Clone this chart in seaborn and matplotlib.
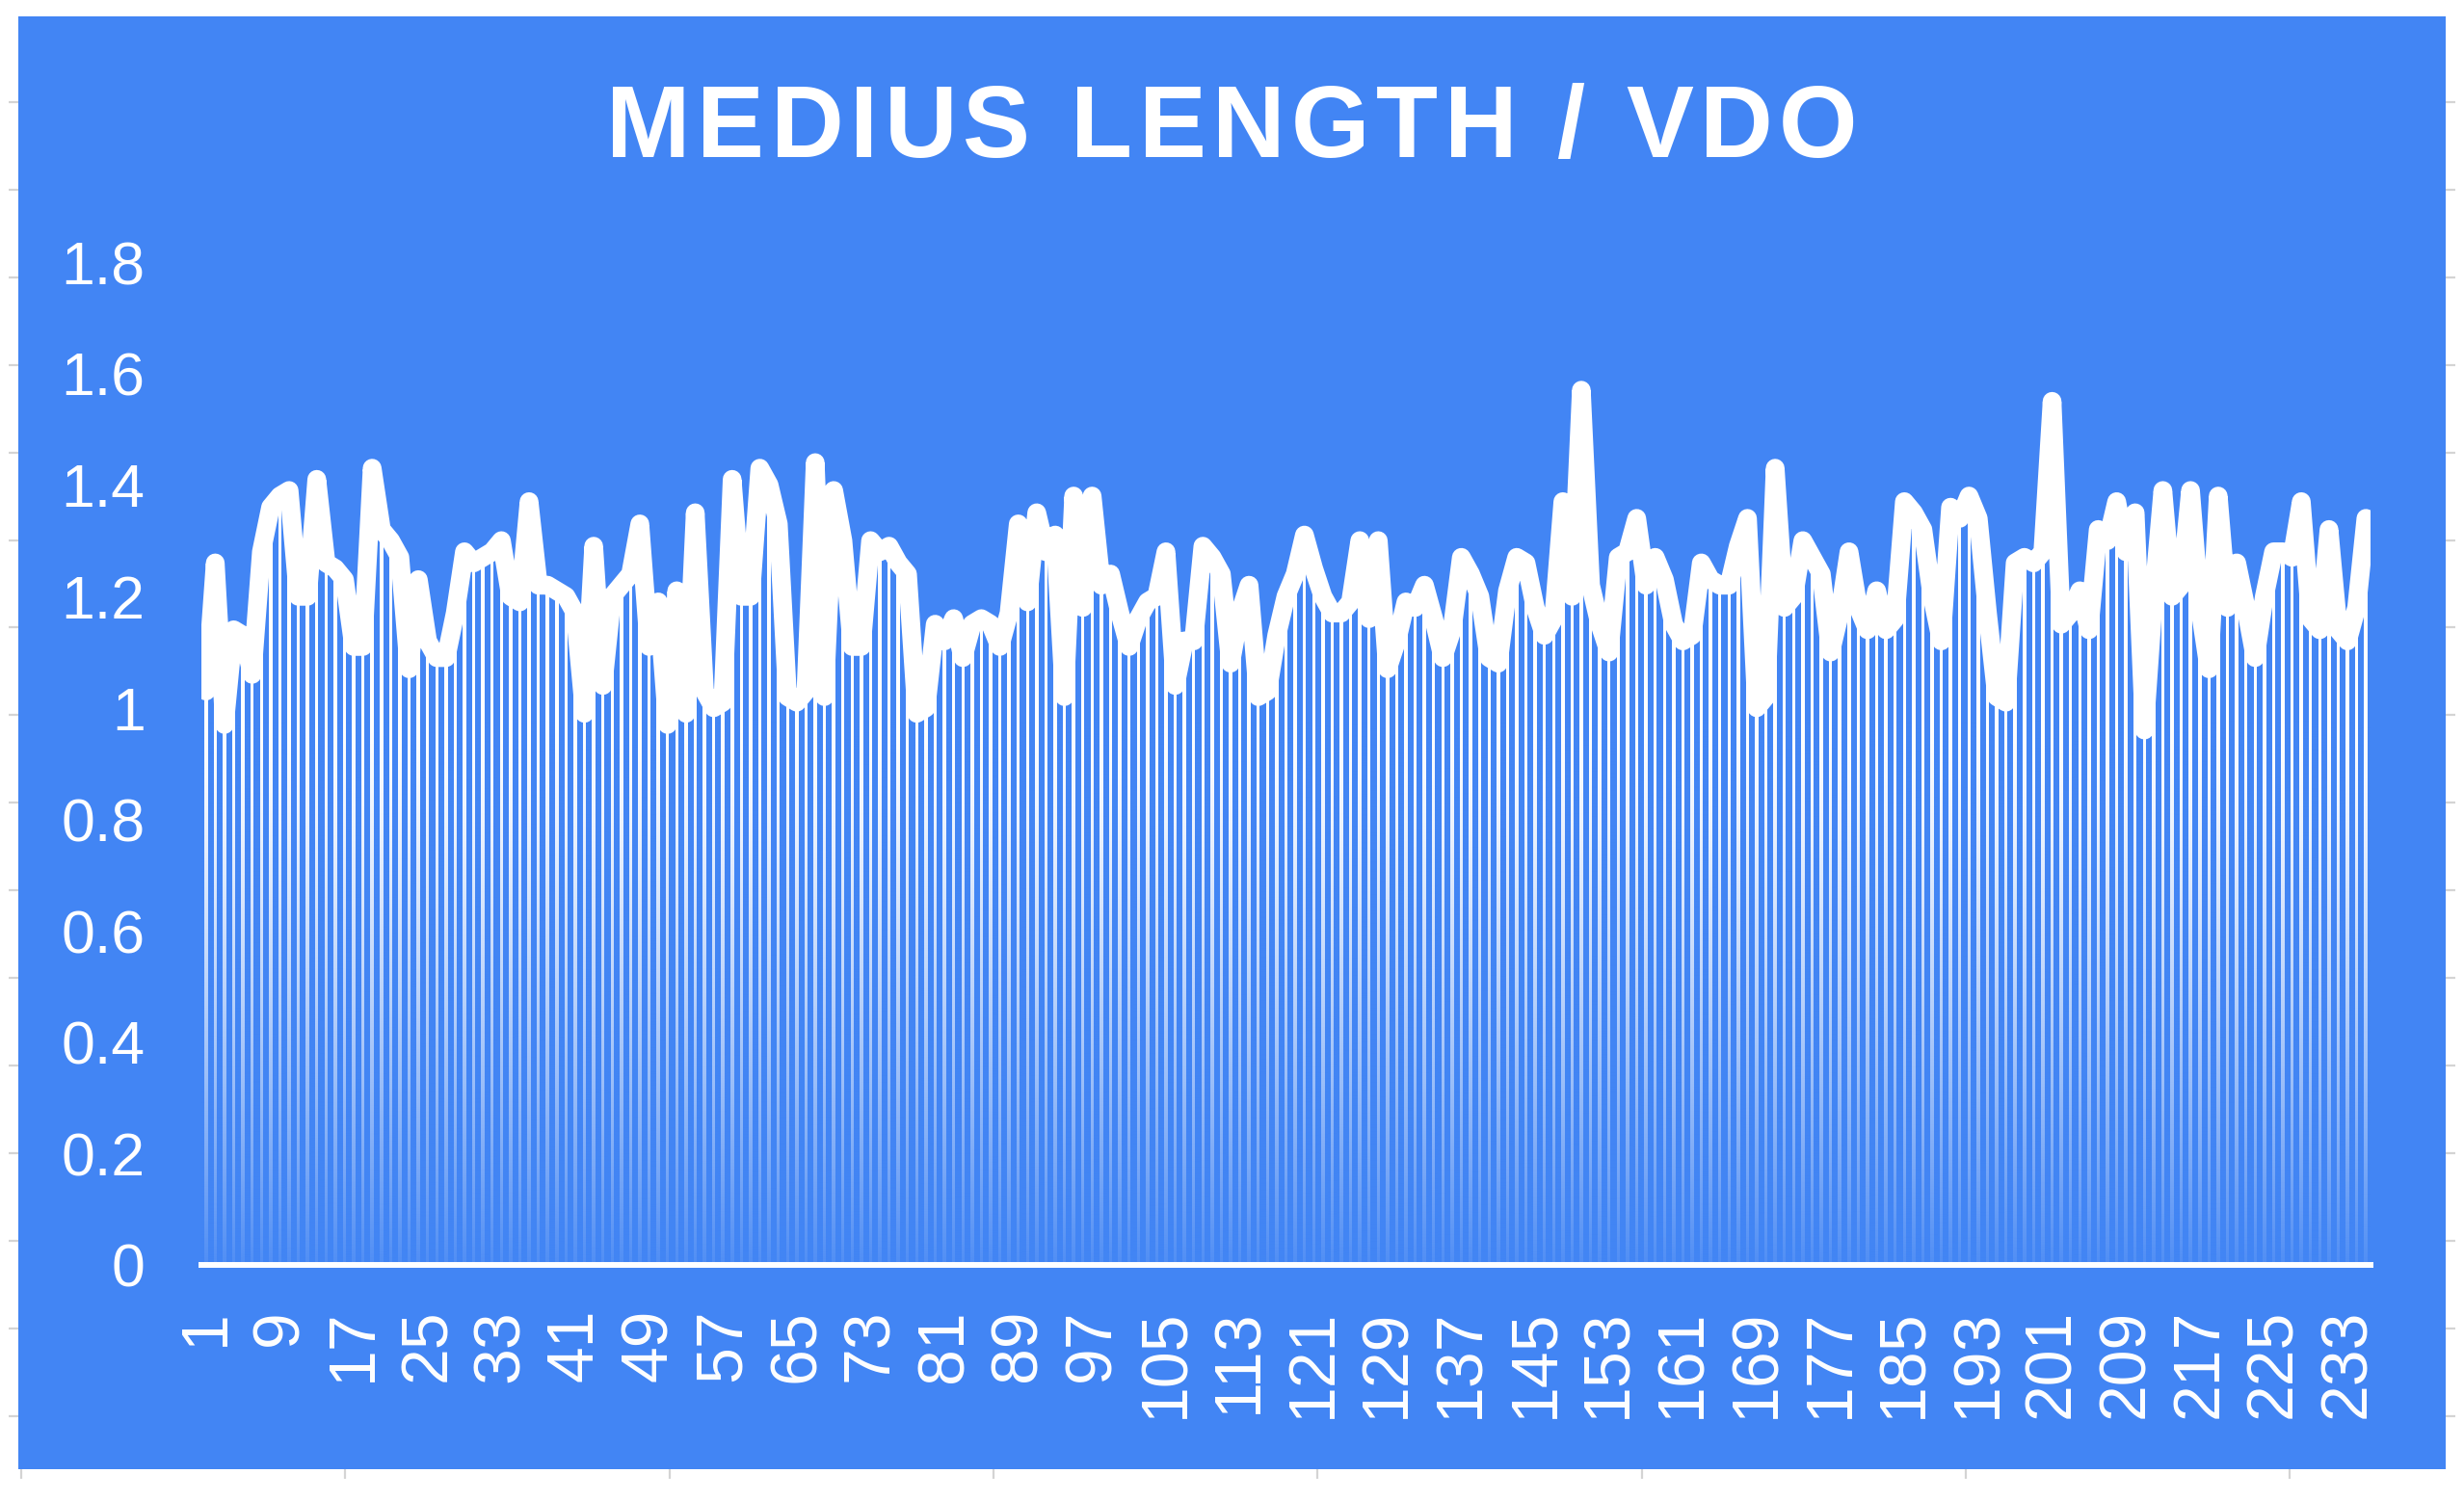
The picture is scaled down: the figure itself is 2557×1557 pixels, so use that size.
import numpy as np
import pandas as pd
import matplotlib
matplotlib.use('Agg')
import matplotlib.pyplot as plt
import seaborn as sns
from matplotlib import font_manager
from matplotlib.colors import to_rgb

# data: one bar per video, value = medius length ratio
day = list(range(1, 236))
ratio = [
    1.03, 1.26, 0.97, 1.14, 1.13, 1.06, 1.28, 1.36, 1.38, 1.39,
    1.20, 1.20, 1.41, 1.26, 1.25, 1.23, 1.11, 1.11, 1.43, 1.32,
    1.30, 1.27, 1.07, 1.23, 1.12, 1.09, 1.09, 1.17, 1.28, 1.26,
    1.27, 1.28, 1.30, 1.20, 1.19, 1.37, 1.22, 1.22, 1.21, 1.20,
    1.17, 0.99, 1.29, 1.04, 1.20, 1.22, 1.24, 1.33, 1.11, 1.19,
    0.97, 1.21, 0.99, 1.35, 1.03, 1.00, 1.01, 1.41, 1.20, 1.20,
    1.43, 1.40, 1.33, 1.02, 1.01, 1.03, 1.44, 1.02, 1.39, 1.30,
    1.11, 1.11, 1.30, 1.28, 1.29, 1.26, 1.24, 0.99, 1.00, 1.15,
    1.12, 1.16, 1.09, 1.15, 1.16, 1.15, 1.11, 1.17, 1.33, 1.19,
    1.35, 1.28, 1.31, 1.02, 1.38, 1.18, 1.38, 1.22, 1.24, 1.17,
    1.11, 1.16, 1.19, 1.20, 1.28, 1.04, 1.12, 1.12, 1.29, 1.27,
    1.24, 1.08, 1.17, 1.22, 1.02, 1.03, 1.13, 1.20, 1.24, 1.31,
    1.25, 1.20, 1.17, 1.17, 1.19, 1.30, 1.16, 1.30, 1.07, 1.12,
    1.19, 1.18, 1.22, 1.16, 1.09, 1.14, 1.27, 1.24, 1.20, 1.09,
    1.08, 1.21, 1.27, 1.26, 1.18, 1.13, 1.16, 1.37, 1.20, 1.57,
    1.22, 1.15, 1.10, 1.27, 1.28, 1.34, 1.22, 1.27, 1.23, 1.15,
    1.12, 1.13, 1.26, 1.23, 1.22, 1.22, 1.29, 1.34, 1.00, 1.02,
    1.43, 1.18, 1.20, 1.30, 1.27, 1.24, 1.10, 1.17, 1.28, 1.18,
    1.14, 1.21, 1.14, 1.16, 1.37, 1.35, 1.32, 1.20, 1.12, 1.36,
    1.34, 1.38, 1.34, 1.17, 1.02, 1.01, 1.26, 1.27, 1.26, 1.28,
    1.55, 1.15, 1.17, 1.21, 1.14, 1.32, 1.30, 1.37, 1.28, 1.35,
    0.96, 1.20, 1.39, 1.20, 1.22, 1.39, 1.18, 1.07, 1.38, 1.18,
    1.26, 1.18, 1.09, 1.20, 1.28, 1.28, 1.27, 1.37, 1.16, 1.14,
    1.32, 1.14, 1.12, 1.18, 1.34,
]
tick_days = day[::8]
tick_labels = [str(d) for d in tick_days]
y_ticks = [0, 0.2, 0.4, 0.6, 0.8, 1, 1.2, 1.4, 1.6, 1.8]
title = 'MEDIUS LENGTH / VDO'

BLUE = '#4285F4'
W, H = 2557, 1557

sns.set_theme(style='white')
plt.rcParams['font.family'] = ['Liberation Sans', 'DejaVu Sans']

fig = plt.figure(figsize=(W / 100, H / 100), dpi=100, facecolor='white')


def px_rect(x0, y0, x1, y1):
    # pixel box measured from the top-left corner -> figure fraction rect
    return [x0 / W, 1 - y1 / H, (x1 - x0) / W, (y1 - y0) / H]


# blue card with the faint outer ticks around it
bg = fig.add_axes(px_rect(19, 17, 2538, 1525))
bg.set_facecolor(BLUE)
bg.set_xlim(19, 2538)
bg.set_ylim(1525, 17)
for s in bg.spines.values():
    s.set_visible(False)
bg.set_xticks(np.arange(22, 2538, 336.3))
bg.set_yticks(np.arange(106, 1525, 90.9))
bg.tick_params(direction='out', length=7, width=1.6, color='#d4d4d4',
               bottom=True, left=True, right=True,
               labelbottom=False, labelleft=False)

# main chart
ax = fig.add_axes(px_rect(209, 272, 2460, 1313))
ax.set_facecolor('none')
df = pd.DataFrame({'day': day, 'ratio': ratio})

sns.barplot(data=df, x='day', y='ratio', native_scale=True, color='white',
            width=0.36, saturation=1, linewidth=0, errorbar=None, ax=ax, zorder=1)

# bars fade into the background towards the baseline
fade = np.linspace(0, 1, 256)
grad = np.zeros((256, 1, 4))
grad[..., :3] = to_rgb(BLUE)
grad[:, 0, 3] = np.clip(1 - fade, 0, 1) ** 1.4 * 0.93
ax.imshow(grad, extent=(0.5, len(day) + 0.5, 0, 1.0), origin='lower',
          aspect='auto', zorder=1.5, interpolation='bilinear')

sns.lineplot(data=df, x='day', y='ratio', color='white', linewidth=14,
             errorbar=None, ax=ax, zorder=3,
             solid_joinstyle='round', solid_capstyle='round')

ax.set_xlim(0.5, len(day) + 0.5)
ax.set_ylim(0, 1.8)
for name, s in ax.spines.items():
    s.set_visible(name == 'bottom')
ax.spines['bottom'].set_color('white')
ax.spines['bottom'].set_linewidth(4.3)
ax.spines['bottom'].set_zorder(2.5)

ax.set_xticks(tick_days, tick_labels, rotation=90)
ax.set_yticks(y_ticks, [f'{v:g}' for v in y_ticks])
ax.tick_params(axis='both', length=0, colors='white')
ax.tick_params(axis='x', labelsize=49, pad=33)
ax.tick_params(axis='y', labelsize=45, pad=42)
ax.set_xlabel('')
ax.set_ylabel('')

# spaced-out bold title, placed letter by letter
title_font = 'Liberation Sans Narrow'
try:
    font_manager.findfont(font_manager.FontProperties(family=title_font, weight='bold'),
                          fallback_to_default=False)
except ValueError:
    title_font = 'Liberation Sans'
title_kw = dict(fontsize=75.5, fontweight='bold', family=title_font, color='white')

fig.canvas.draw()
renderer = fig.canvas.get_renderer()


def text_width(s):
    t = fig.text(0, 0, s, **title_kw)
    w = t.get_window_extent(renderer).width
    t.remove()
    return w


bars_w = text_width('||')
widths = [text_width('|' + ch + '|') - bars_w for ch in title]
target_w = 1298
track = (target_w - sum(widths)) / (len(title) - 1)
x = W / 2 - target_w / 2
for ch, w in zip(title, widths):
    fig.text(x / W, 1 - 163 / H, ch, ha='left', va='baseline', **title_kw)
    x += w + track

fig.savefig('out.png', dpi=100, facecolor='white')
